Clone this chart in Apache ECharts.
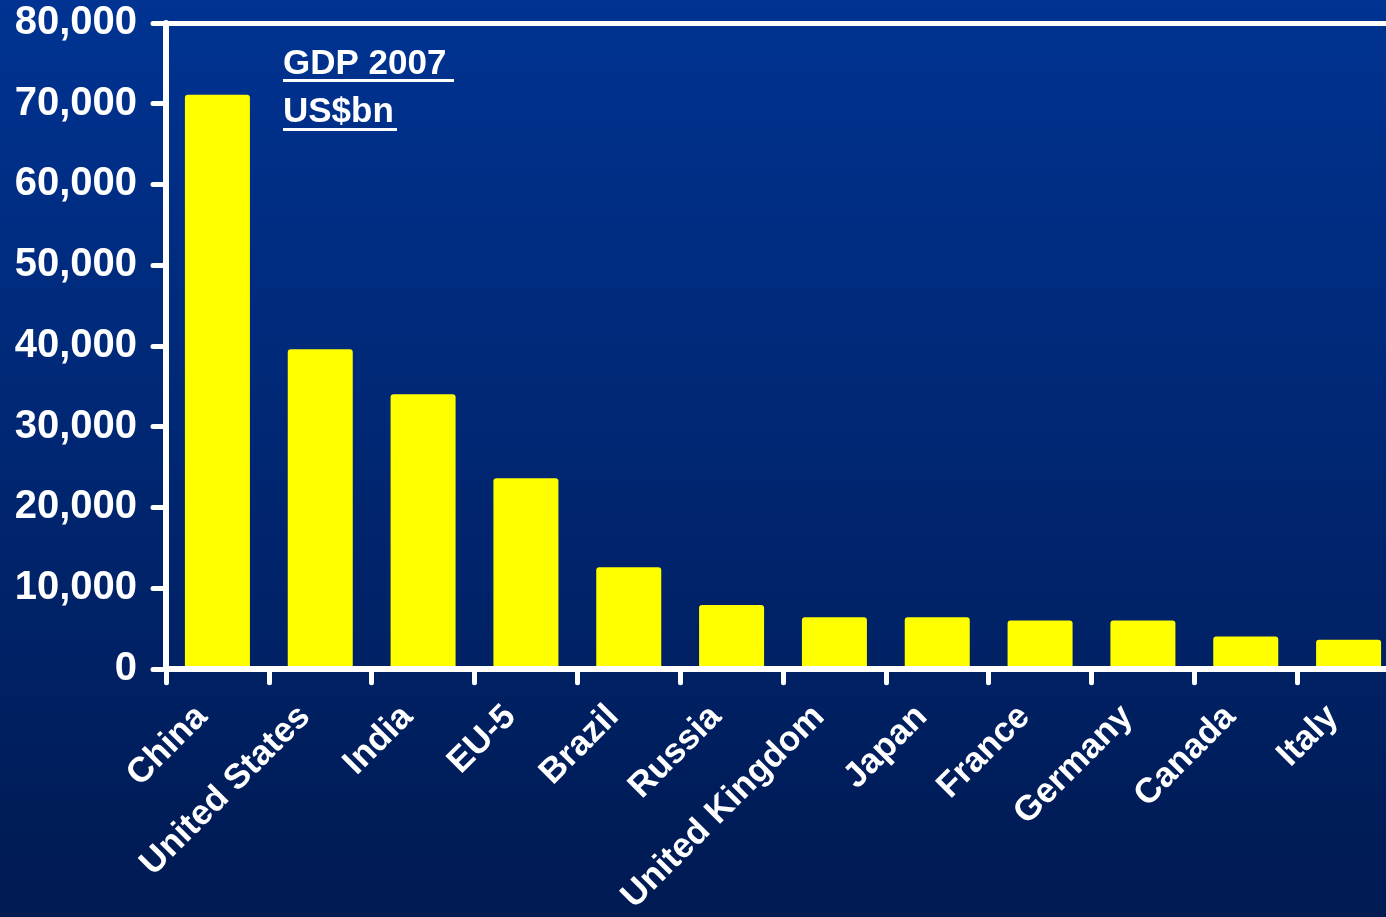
<!DOCTYPE html>
<html>
<head>
<meta charset="utf-8">
<title>GDP 2007</title>
<script src="https://cdn.jsdelivr.net/npm/echarts@6/dist/echarts.min.js"></script>
<style>
  html, body { margin: 0; padding: 0; overflow: hidden; }
  /* 画布比窗口宽一点，最后一类被裁掉一部分 */
  #main { width: 1400px; height: 917px; }
</style>
</head>
<body>
<div id="main"></div>
<script>
// 数据
var countries = ["China", "United States", "India", "EU-5", "Brazil", "Russia",
    "United Kingdom", "Japan", "France", "Germany", "Canada", "Italy"];
var gdp = [71100, 39600, 34000, 23600, 12600, 7900, 6400, 6400, 6000, 6000, 4000, 3600];
var yMin = 0, yMax = 80000, yStep = 10000;
var titleLines = ["GDP 2007", "US$bn"];

var font = "'Liberation Sans', Arial, sans-serif";
var chart = echarts.init(document.getElementById('main'));

var option = {
    backgroundColor: {
        type: 'linear', x: 0, y: 0, x2: 0, y2: 1,
        colorStops: [
            { offset: 0, color: '#003392' },
            { offset: 1, color: '#001a52' }
        ]
    },
    animation: false,
    grid: {
        left: 166,
        top: 23,
        right: 0,
        bottom: 246,
        containLabel: false
    },
    xAxis: [{
        type: 'category',
        data: countries,
        z: 10,
        axisLine: {
            lineStyle: { color: '#fff', width: 6, cap: 'round' }
        },
        axisTick: {
            show: true,
            length: 14,
            lineStyle: { color: '#fff', width: 5, cap: 'round' }
        },
        axisLabel: {
            rotate: 45,
            interval: 0,
            margin: 27,
            padding: [0, 22, 0, 0],
            color: '#fff',
            fontFamily: font,
            fontWeight: 'bold',
            fontSize: 35
        }
    }, {
        // 顶部白线 (80,000)
        type: 'category',
        position: 'top',
        data: countries,
        axisLine: {
            lineStyle: { color: '#fff', width: 5 }
        },
        axisTick: { show: false },
        axisLabel: { show: false }
    }],
    yAxis: {
        type: 'value',
        min: yMin,
        max: yMax,
        interval: yStep,
        axisLine: {
            show: true,
            lineStyle: { color: '#fff', width: 6, cap: 'round' }
        },
        axisTick: {
            show: true,
            length: 13,
            lineStyle: { color: '#fff', width: 5, cap: 'round' }
        },
        splitLine: { show: false },
        axisLabel: {
            margin: 29,
            color: '#fff',
            fontFamily: font,
            fontWeight: 'bold',
            fontSize: 40,
            formatter: function (v) { return v.toLocaleString('en-US'); }
        }
    },
    graphic: [
        {
            type: 'text', left: 283, top: 47,
            style: { text: titleLines[0], fill: '#fff', font: 'bold 35px ' + font }
        },
        {
            type: 'rect', shape: { x: 283, y: 79, width: 171, height: 3 },
            style: { fill: '#fff' }
        },
        {
            type: 'text', left: 283, top: 95,
            style: { text: titleLines[1], fill: '#fff', font: 'bold 35px ' + font }
        },
        {
            type: 'rect', shape: { x: 283, y: 128, width: 114, height: 3 },
            style: { fill: '#fff' }
        }
    ],
    series: [{
        type: 'bar',
        data: gdp,
        barWidth: 65,
        itemStyle: {
            color: '#ffff00',
            borderRadius: [3, 3, 0, 0]
        }
    }]
};

chart.setOption(option);
</script>
</body>
</html>
